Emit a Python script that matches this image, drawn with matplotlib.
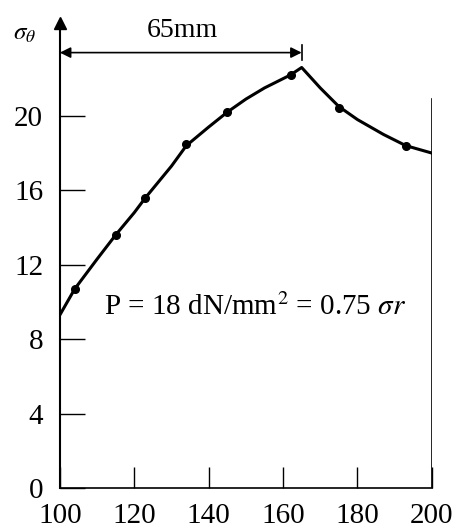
import numpy as np
import matplotlib
matplotlib.use("Agg")
import matplotlib.pyplot as plt

plt.rcParams['font.family'] = ['Liberation Serif', 'DejaVu Serif']
plt.rcParams['mathtext.fontset'] = 'stix'

# curve (distance, stress)
curve_x = [100, 104, 110, 115, 120, 123, 130, 134, 140, 145, 150, 155, 162, 165, 170, 175, 180, 187, 193, 200]
curve_y = [9.3, 10.7, 12.3, 13.6, 14.8, 15.6, 17.3, 18.4, 19.4, 20.2, 20.9, 21.5, 22.2, 22.6, 21.5, 20.5, 19.8, 19.0, 18.4, 18.0]

# measured points (filled dots)
pts_x = [104, 115, 123, 134, 145, 162, 175, 193]
pts_y = [10.7, 13.6, 15.6, 18.5, 20.2, 22.2, 20.4, 18.4]

xticks = [100, 120, 140, 160, 180, 200]
yticks = [0, 4, 8, 12, 16, 20]

fig = plt.figure(figsize=(4.57, 5.31), dpi=100)
ax = fig.add_axes([0.131, 0.081, 0.814, 0.876])

ax.plot(curve_x, curve_y, color='black', lw=2.2)
ax.plot(pts_x, pts_y, 'o', color='black', ms=5.5)

ax.set_xlim(100, 200)
ax.set_ylim(0, 25)
ax.set_xticks(xticks)
ax.set_yticks(yticks)
ax.tick_params(axis='y', direction='in', length=18, width=1, labelsize=21, pad=12)
ax.tick_params(axis='x', direction='in', length=15, width=1, labelsize=21, pad=11)

ax.spines['top'].set_visible(False)
ax.spines['right'].set_visible(False)
ax.spines['left'].set_linewidth(1.5)
ax.spines['bottom'].set_linewidth(1.2)

# right border line, only up to the curve
ax.axvline(200, ymin=0, ymax=20.9 / 25, color='black', lw=1.2)

# arrow at top of the stress axis
ax.plot([100], [25], marker='^', color='black', ms=9, clip_on=False)

# 65mm dimension
ax.annotate('', xy=(100, 23.4), xytext=(165, 23.4),
            arrowprops=dict(arrowstyle='<|-|>', color='black', lw=1.2,
                            shrinkA=0, shrinkB=0, mutation_scale=16))
ax.plot([165, 165], [23.0, 23.8], color='black', lw=1.2, clip_on=False)
ax.text(133, 24.25, '65mm', fontsize=20, ha='center', va='baseline')

ax.text(-0.125, 0.975, r'$\sigma_\theta$', transform=ax.transAxes, fontsize=18,
        ha='left', va='center')

ax.text(152.5, 9.3, r'P = 18 dN/mm$^2$ = 0.75 $\sigma r$', fontsize=21,
        ha='center', va='baseline')

fig.savefig('out.png', dpi=100)
